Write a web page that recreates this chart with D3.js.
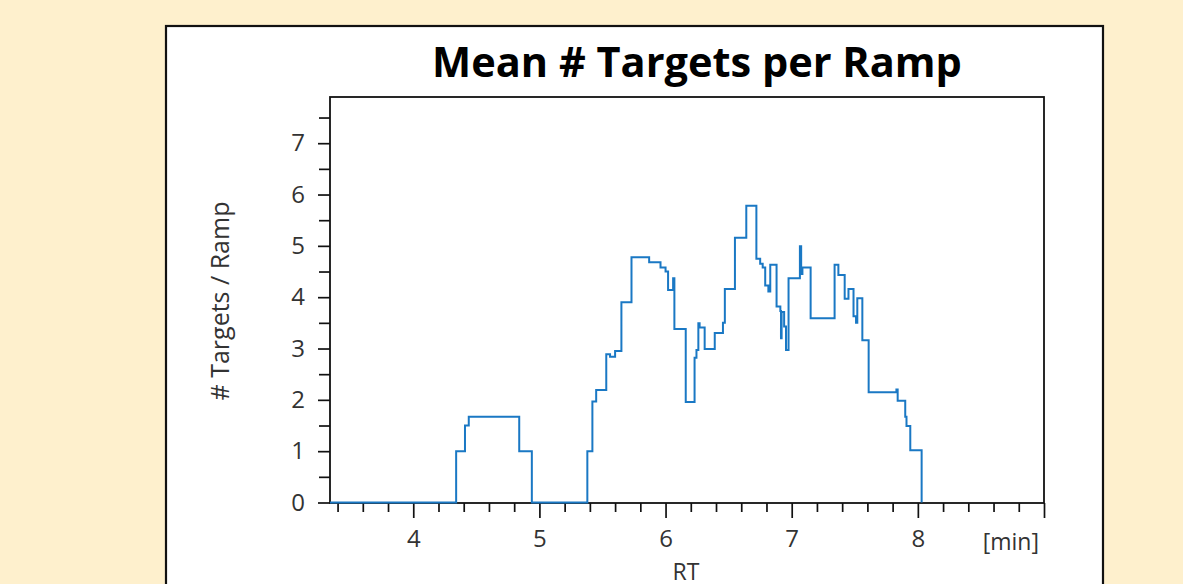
<!DOCTYPE html>
<html>
<head>
<meta charset="utf-8">
<script src="https://cdn.jsdelivr.net/npm/d3@7"></script>
<style>
  html, body { margin: 0; padding: 0; background: #fef0cd; }
  svg { display: block; }
</style>
</head>
<body>
<svg id="chart" width="1183" height="584"></svg>
<script>
// RT in minutes where the step level changes, and the level held from there on
const rtMin = [3.34, 4.34, 4.41, 4.44, 4.84, 4.94, 5.38, 5.42, 5.45, 5.53, 5.56, 5.60,
  5.65, 5.73, 5.87, 5.96, 6.00, 6.02, 6.06, 6.07, 6.16, 6.23, 6.245, 6.26, 6.27, 6.31,
  6.39, 6.455, 6.47, 6.55, 6.64, 6.72, 6.75, 6.77, 6.79, 6.815, 6.83, 6.88, 6.91, 6.915,
  6.92, 6.94, 6.955, 6.975, 7.065, 7.075, 7.085, 7.15, 7.34, 7.37, 7.42, 7.45, 7.49,
  7.51, 7.52, 7.56, 7.61, 7.83, 7.84, 7.90, 7.91, 7.94, 8.03];
const targets = [0, 1.0, 1.5, 1.67, 1.0, 0, 1.0, 1.97, 2.19, 2.89, 2.84, 2.95,
  3.90, 4.78, 4.68, 4.58, 4.50, 4.14, 4.37, 3.38, 1.96, 2.82, 2.97, 3.49, 3.41, 2.99,
  3.30, 3.50, 4.16, 5.16, 5.78, 4.75, 4.65, 4.58, 4.23, 4.11, 4.63, 3.82, 3.73, 3.20,
  3.71, 3.43, 2.97, 4.37, 4.99, 4.45, 4.58, 3.59, 4.63, 4.43, 3.97, 4.16, 3.63,
  3.50, 3.98, 3.16, 2.15, 2.20, 1.98, 1.67, 1.49, 1.02, 0];

const xMajor = [4, 5, 6, 7, 8, 9];
const xLabels = ["4", "5", "6", "7", "8"];
const yMajor = [0, 1, 2, 3, 4, 5, 6, 7];

const title = "Mean # Targets per Ramp";
const xTitle = "RT";
const xUnit = "[min]";
const yTitle = "# Targets / Ramp";

const svg = d3.select("#chart");
const font = "'Open Sans', 'Noto Sans', sans-serif";
const textColor = "#333";

// outer white panel
svg.append("rect")
    .attr("x", 166).attr("y", 26)
    .attr("width", 937).attr("height", 600)
    .attr("fill", "#fff")
    .attr("stroke", "#111")
    .attr("stroke-width", 2.2);

const plot = {left: 330, top: 97, right: 1044, bottom: 503};

const x = d3.scaleLinear().domain([3.34, 9]).range([plot.left, plot.right]);
const y = d3.scaleLinear().domain([0, 7.9]).range([plot.bottom - 0.5, plot.top]);

// title, sized to the reference width
const t = svg.append("text")
    .attr("x", 697).attr("y", 77)
    .attr("text-anchor", "middle")
    .attr("font-family", font)
    .attr("font-weight", 700)
    .attr("font-size", 40)
    .attr("fill", "#000")
    .text(title);
const tw = t.node().getComputedTextLength();
t.attr("font-size", 40 * 530 / tw);

// minor ticks
const xMinor = d3.range(3.4, 9, 0.2).filter(v => Math.abs(v - Math.round(v)) > 0.01);
const yMinor = d3.range(0.5, 7.9, 1);

svg.append("g")
    .attr("transform", `translate(0,${plot.bottom})`)
    .call(d3.axisBottom(x).tickValues(xMinor).tickSize(9).tickFormat(""))
    .call(g => g.select(".domain").remove());

svg.append("g")
    .attr("transform", `translate(0,${plot.bottom})`)
    .call(d3.axisBottom(x).tickValues(xMajor).tickSize(15).tickPadding(12)
      .tickFormat(d => xLabels.includes(String(d)) ? String(d) : ""))
    .call(g => g.select(".domain").remove());

svg.append("g")
    .attr("transform", `translate(${plot.left},0)`)
    .call(d3.axisLeft(y).tickValues(yMinor).tickSize(11).tickFormat(""))
    .call(g => g.select(".domain").remove());

svg.append("g")
    .attr("transform", `translate(${plot.left},0)`)
    .call(d3.axisLeft(y).tickValues(yMajor).tickSize(12).tickPadding(13))
    .call(g => g.select(".domain").remove());

svg.selectAll(".tick line").attr("stroke", "#111").attr("stroke-width", 1.7);
svg.selectAll(".tick text")
    .attr("font-family", font)
    .attr("font-size", 24)
    .attr("fill", textColor);

// plot frame
svg.append("rect")
    .attr("x", plot.left).attr("y", plot.top)
    .attr("width", plot.right - plot.left).attr("height", plot.bottom - plot.top)
    .attr("fill", "none")
    .attr("stroke", "#111")
    .attr("stroke-width", 1.8);

// step line
const pts = rtMin.map((v, i) => [v, targets[i]]);
const line = d3.line()
    .x(d => x(d[0]))
    .y(d => y(d[1]))
    .curve(d3.curveStepAfter);

svg.append("path")
    .datum(pts)
    .attr("d", line)
    .attr("fill", "none")
    .attr("stroke", "#1a78c4")
    .attr("stroke-width", 2)
    .attr("stroke-linejoin", "miter");

// axis titles
svg.append("text")
    .attr("x", 1039).attr("y", 550)
    .attr("text-anchor", "end")
    .attr("font-family", font)
    .attr("font-size", 23)
    .attr("fill", textColor)
    .text(xUnit);

svg.append("text")
    .attr("x", 686).attr("y", 580)
    .attr("text-anchor", "middle")
    .attr("font-family", font)
    .attr("font-size", 23)
    .attr("fill", textColor)
    .text(xTitle);

svg.append("text")
    .attr("transform", "translate(229,301) rotate(-90)")
    .attr("text-anchor", "middle")
    .attr("font-family", font)
    .attr("font-size", 25)
    .attr("fill", textColor)
    .text(yTitle);
</script>
</body>
</html>
